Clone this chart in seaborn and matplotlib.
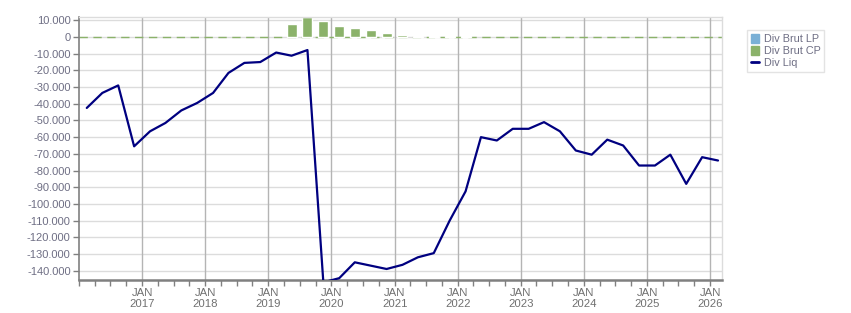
import matplotlib
matplotlib.use("Agg")
import matplotlib.pyplot as plt
import matplotlib.dates as mdates
from matplotlib.patches import Patch
from matplotlib.lines import Line2D
import matplotlib.ticker as mticker
import seaborn as sns
import pandas as pd
import numpy as np

# ---- data ----
dates = pd.date_range("2016-02-01", periods=41, freq="3MS") + pd.Timedelta(days=14)
div_liq = [-42500, -33500, -29000, -65500, -56500, -51500, -44000, -39500, -33500,
           -21500, -15500, -15000, -9300, -11200, -7800, -147000, -144500, -135000,
           -137000, -139000, -136500, -132000, -129500, -110000, -92500, -60000,
           -62000, -55000, -55000, -51000, -56500, -68000, -70500, -61500, -65000,
           -77000, -77000, -70500, -88000, -72000, -74000]
div_brut_cp = [0]*13 + [7400, 11800, 9200, 6400, 5000, 3800, 2000, 1000, 300, 300, 300, 300] + [0]*16
div_brut_lp = [0]*13 + [250]*8 + [150]*4 + [0]*16
year_labels = [str(y) for y in range(2017, 2027)]

df = pd.DataFrame({"date": dates, "Div Liq": div_liq,
                   "Div Brut CP": div_brut_cp, "Div Brut LP": div_brut_lp})

sns.set_theme(style="white")
plt.rcParams["font.family"] = ["Liberation Sans", "DejaVu Sans"]

fig = plt.figure(figsize=(8.51, 3.13), dpi=100)
ax = fig.add_axes([79/851, 1-280/313, (722-79)/851, (280-17)/313])

# grid
ax.set_axisbelow(True)
for v in range(-140000, 10001, 10000):
    ax.axhline(v, color="#dcdcdc", lw=1, zorder=0)
for y in range(2017, 2027):
    ax.axvline(pd.Timestamp(f"{y}-01-01"), color="#b4b4b4", lw=1, zorder=0.5)

# bars (stacked)
width = 58
mask = df["Div Brut CP"] + df["Div Brut LP"] > 0
d = df[mask]
ax.bar(d["date"], d["Div Brut LP"], width=width, color="#7ab0d6", zorder=2)
ax.bar(d["date"], d["Div Brut CP"], width=width, bottom=d["Div Brut LP"],
       color="#8bb26a", zorder=2)

# zero dashed line
ax.axhline(0, color="#8bb26a", lw=1, ls=(0, (6, 4)), zorder=1)

# line
sns.lineplot(data=df, x="date", y="Div Liq", color="#000080", lw=1.6, ax=ax,
             zorder=3, legend=False)

ax.set_ylim(-145600, 12000)
ax.set_xlim(pd.Timestamp("2016-01-01"), pd.Timestamp("2026-03-10"))

# ticks
ax.set_yticks(range(-140000, 10001, 10000))
ax.yaxis.set_major_formatter(mticker.FuncFormatter(
    lambda v, p: "0" if v == 0 else f"{int(v):,}".replace(",", ".")))
ax.xaxis.set_minor_locator(mdates.MonthLocator(bymonth=[1, 4, 7, 10]))
ax.set_xticks([pd.Timestamp(f"{y}-01-01") for y in range(2017, 2027)])
ax.set_xticklabels(["JAN\n" + s for s in year_labels], linespacing=1.1)
ax.tick_params(axis="y", which="major", length=4, width=1, color="#808080",
               labelsize=8, labelcolor="#6e6e84", pad=2, left=True)
ax.tick_params(axis="x", which="both", length=4, width=1, color="#808080",
               labelsize=8.2, labelcolor="#707070", pad=2, bottom=True)
ax.set_xlabel("")
ax.set_ylabel("")

for s in ["top", "right"]:
    ax.spines[s].set_color("#dcdcdc")
    ax.spines[s].set_linewidth(1)
ax.spines["left"].set_color("#808080")
ax.spines["left"].set_linewidth(1.2)
ax.spines["bottom"].set_color("#808080")
ax.spines["bottom"].set_linewidth(1.8)

handles = [Patch(color="#7ab0d6"), Patch(color="#8bb26a"),
           Line2D([0], [0], color="#000080", lw=2)]
leg = fig.legend(handles, ["Div Brut LP", "Div Brut CP", "Div Liq"],
                 loc="upper left", bbox_to_anchor=(747/851, 1-30/313),
                 frameon=True, fancybox=False, fontsize=7.8,
                 handlelength=0.8, handleheight=0.9, handletextpad=0.4,
                 borderpad=0.35, labelspacing=0.15, borderaxespad=0)
leg.get_frame().set_edgecolor("#dcdcdc")
leg.get_frame().set_linewidth(1)
for t in leg.get_texts():
    t.set_color("#6e6e84")

fig.savefig("out.png", dpi=100)
